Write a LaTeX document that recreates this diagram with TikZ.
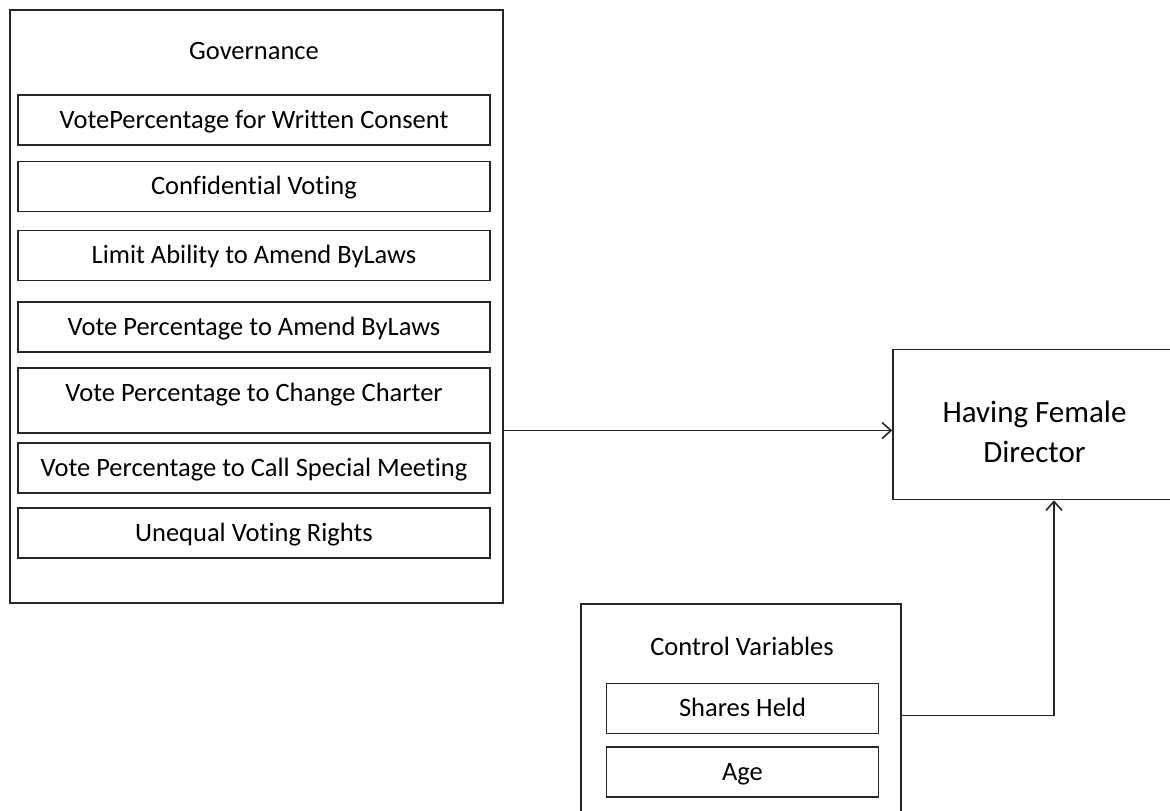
\documentclass[tikz,border=0pt]{standalone}
\usepackage{fontspec}
\setmainfont{Carlito}[Ligatures=NoCommon]
\usepackage{tikz}
\usetikzlibrary{arrows.meta}

\begin{document}
\begin{tikzpicture}[x=1pt, y=-1pt,
    frame/.style={rectangle, draw=black!85, line width=1.5pt},
    item/.style={frame, minimum width=472pt, minimum height=50pt, inner sep=0pt,
        text height=22pt, text depth=6pt, font=\fontsize{26.5}{31}\selectfont},
    title/.style={font=\fontsize{26.5}{31}\selectfont},
    link/.style={draw=black!85, line width=1.5pt, -{Straight Barb[length=9pt, width=16pt, line width=1.6pt]}}]
    \useasboundingbox (0,0) rectangle (1170,811);

    % Governance block
    \node[frame, minimum width=493pt, minimum height=593pt] (gov) at (256.5,306.5) {};
    \node[title] (govtitle) at (254,51) {Governance};
    \foreach \name/\y/\label in {g1/120/VotePercentage for Written Consent,
                                 g2/186.5/Confidential Voting,
                                 g3/255.5/Limit Ability to Amend ByLaws,
                                 g4/327/Vote Percentage to Amend ByLaws,
                                 g6/468/Vote Percentage to Call Special Meeting,
                                 g7/533/Unequal Voting Rights} {
        \node[item] (\name) at (254,\y) {\label};
    }
    \node[item, minimum height=65pt, text depth=21pt] (g5) at (254,400.5) {Vote Percentage to Change Charter};

    % Outcome
    \node[frame, minimum width=283pt, minimum height=150pt, align=center,
          font=\fontsize{31}{40}\selectfont] (hfd) at (1034.5,424.5) {\rule{0pt}{37pt}Having Female\\Director};

    % Control variables block
    \node[frame, minimum width=320pt, minimum height=212pt] (ctrl) at (741,710) {};
    \node[title] (ctrltitle) at (742,646) {Control Variables};
    \node[item, minimum width=272pt] (c1) at (742.5,708.5) {Shares Held};
    \node[item, minimum width=272pt] (c2) at (742.5,772) {Age};

    % Arrows
    \coordinate (govin) at ([yshift=-6pt]hfd.west);
    \draw[link] (gov.east |- govin) -- (govin);
    \coordinate (ctrlout) at ([yshift=-7pt]ctrl.east |- c1.east);
    \coordinate (ctrlin) at ([xshift=19.5pt]hfd.south);
    \draw[link] (ctrlout) -| (ctrlin);
\end{tikzpicture}
\end{document}
